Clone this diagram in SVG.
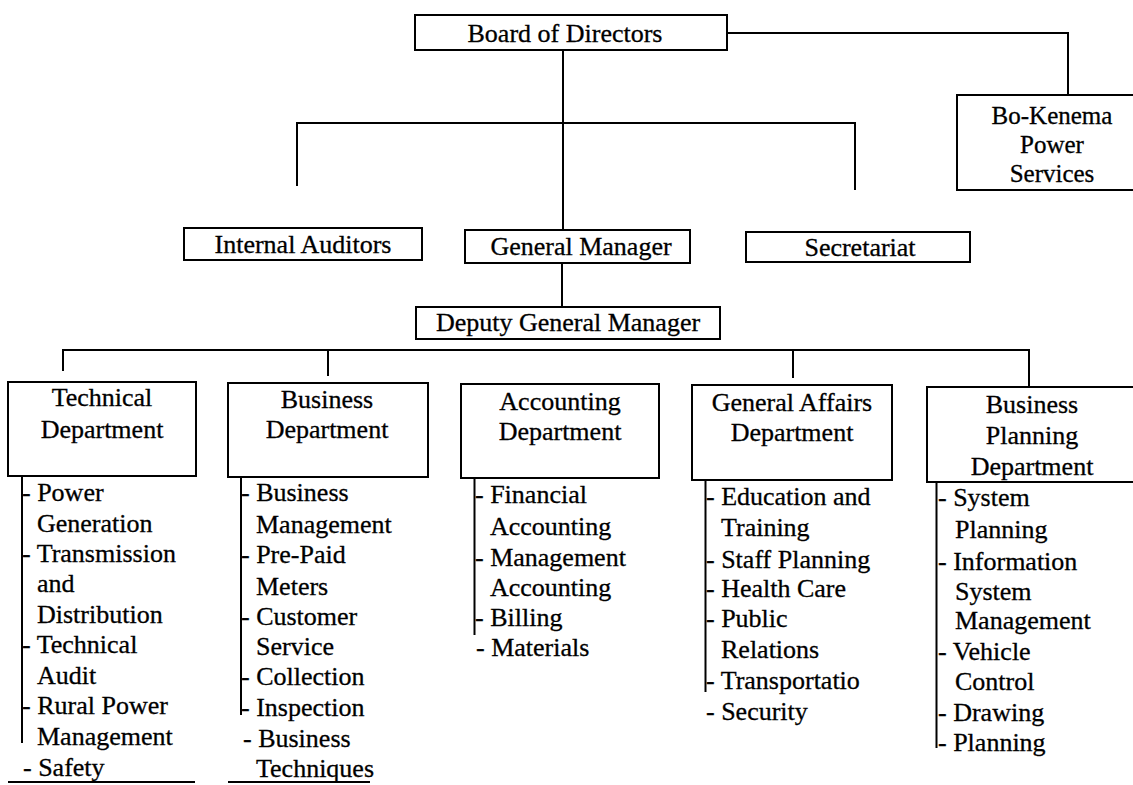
<svg xmlns="http://www.w3.org/2000/svg" width="1133" height="785" viewBox="0 0 1133 785">
  <style>
    .box { fill: #fff; stroke: #000; stroke-width: 2; }
    .ln { fill: none; stroke: #000; stroke-width: 2; }
    text { font-family: "Liberation Serif", "Times New Roman", serif; font-size: 26px; fill: #000; stroke: #000; stroke-width: 0.3; }
    .c { text-anchor: middle; }
    .sm { font-size: 25px; }
  </style>
  <rect width="1133" height="785" fill="#fff"/>

  <!-- connectors -->
  <g id="connectors">
    <polyline class="ln" points="727,33 1068,33 1068,95"/>
    <line class="ln" x1="563" y1="50" x2="563" y2="230"/>
    <polyline class="ln" points="297,186 297,123 855,123 855,190"/>
    <line class="ln" x1="562" y1="263" x2="562" y2="307"/>
    <line class="ln" x1="63" y1="350" x2="1029" y2="350"/>
    <line class="ln" x1="63" y1="349" x2="63" y2="371"/>
    <line class="ln" x1="328" y1="350" x2="328" y2="376"/>
    <line class="ln" x1="793" y1="350" x2="793" y2="378"/>
    <line class="ln" x1="1029" y1="349" x2="1029" y2="386"/>
    <!-- list spines -->
    <line class="ln" x1="22" y1="476" x2="22" y2="743"/>
    <line class="ln" x1="241" y1="477" x2="241" y2="715"/>
    <line class="ln" x1="474.5" y1="478" x2="474.5" y2="635"/>
    <line class="ln" x1="705.5" y1="480" x2="705.5" y2="692"/>
    <line class="ln" x1="936.5" y1="482" x2="936.5" y2="748"/>
    <!-- underlines -->
    <line class="ln" x1="8" y1="782" x2="195" y2="782"/>
    <line class="ln" x1="228" y1="782" x2="370" y2="782"/>
  </g>

  <g id="board">
    <rect class="box" x="415" y="15" width="312" height="35"/>
    <text class="c" x="565" y="42">Board of Directors</text>
  </g>

  <g id="bo-kenema">
    <rect class="box" x="957" y="95" width="185" height="95"/>
    <text class="c sm" x="1052" y="124">Bo-Kenema</text>
    <text class="c sm" x="1052" y="153">Power</text>
    <text class="c sm" x="1052" y="182">Services</text>
  </g>

  <g id="internal-auditors">
    <rect class="box" x="184" y="228" width="238" height="32"/>
    <text class="c" x="303" y="253">Internal Auditors</text>
  </g>

  <g id="general-manager">
    <rect class="box" x="465" y="230" width="225" height="33"/>
    <text class="c" x="581" y="255">General Manager</text>
  </g>

  <g id="secretariat">
    <rect class="box" x="746" y="232" width="224" height="30"/>
    <text class="c" x="860" y="256">Secretariat</text>
  </g>

  <g id="deputy-general-manager">
    <rect class="box" x="416" y="307" width="304" height="32"/>
    <text class="c" x="568" y="331">Deputy General Manager</text>
  </g>

  <g id="technical">
    <rect class="box" x="8" y="382" width="188" height="94"/>
    <text class="c" x="102" y="406">Technical</text>
    <text class="c" x="102" y="438">Department</text>
    <text x="22" y="501">- Power</text>
    <text x="37" y="532">Generation</text>
    <text x="22" y="562">- Transmission</text>
    <text x="37" y="592">and</text>
    <text x="37" y="623">Distribution</text>
    <text x="22" y="653">- Technical</text>
    <text x="37" y="684">Audit</text>
    <text x="22" y="714">- Rural Power</text>
    <text x="37" y="745">Management</text>
    <text x="23" y="776">- Safety</text>
  </g>

  <g id="business">
    <rect class="box" x="228" y="383" width="200" height="94"/>
    <text class="c" x="327" y="408">Business</text>
    <text class="c" x="327" y="438">Department</text>
    <text x="241" y="501">- Business</text>
    <text x="256" y="533">Management</text>
    <text x="241" y="563">- Pre-Paid</text>
    <text x="256" y="595">Meters</text>
    <text x="241" y="625">- Customer</text>
    <text x="256" y="655">Service</text>
    <text x="241" y="685">- Collection</text>
    <text x="241" y="716">- Inspection</text>
    <text x="243" y="747">- Business</text>
    <text x="256" y="777">Techniques</text>
  </g>

  <g id="accounting">
    <rect class="box" x="461" y="384" width="198" height="94"/>
    <text class="c" x="560" y="410">Accounting</text>
    <text class="c" x="560" y="440">Department</text>
    <text x="475" y="503">- Financial</text>
    <text x="490" y="535">Accounting</text>
    <text x="475" y="566">- Management</text>
    <text x="490" y="596">Accounting</text>
    <text x="475" y="626">- Billing</text>
    <text x="476" y="656">- Materials</text>
  </g>

  <g id="general-affairs">
    <rect class="box" x="692" y="385" width="200" height="95"/>
    <text class="c" x="792" y="411">General Affairs</text>
    <text class="c" x="792" y="441">Department</text>
    <text x="706" y="505">- Education and</text>
    <text x="721" y="536">Training</text>
    <text x="706" y="568">- Staff Planning</text>
    <text x="706" y="597">- Health Care</text>
    <text x="706" y="627">- Public</text>
    <text x="721" y="658">Relations</text>
    <text x="706" y="689">- Transportatio</text>
    <text x="706" y="720">- Security</text>
  </g>

  <g id="business-planning">
    <rect class="box" x="927" y="387" width="215" height="95"/>
    <text class="c" x="1032" y="413">Business</text>
    <text class="c" x="1032" y="444">Planning</text>
    <text class="c" x="1032" y="475">Department</text>
    <text x="938" y="506">- System</text>
    <text x="955" y="538">Planning</text>
    <text x="938" y="570">- Information</text>
    <text x="955" y="600">System</text>
    <text x="955" y="629">Management</text>
    <text x="938" y="660">- Vehicle</text>
    <text x="955" y="690">Control</text>
    <text x="938" y="721">- Drawing</text>
    <text x="938" y="751">- Planning</text>
  </g>
</svg>
